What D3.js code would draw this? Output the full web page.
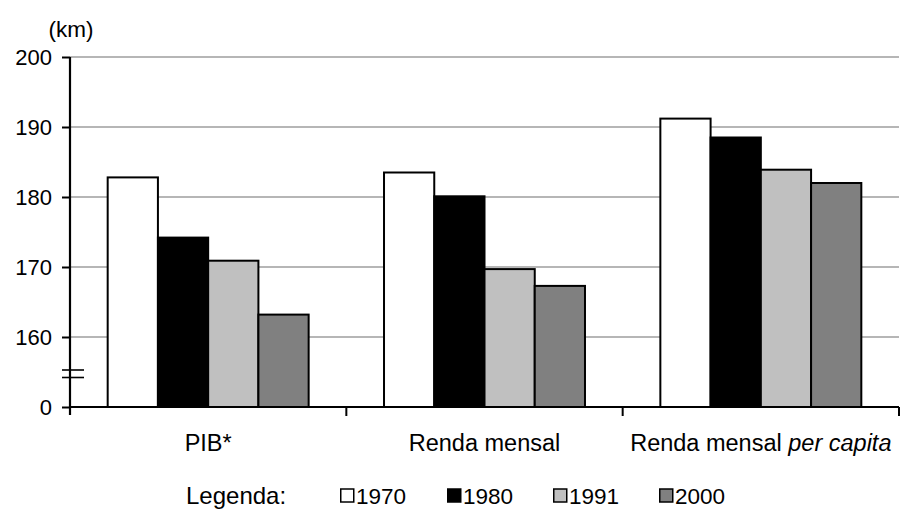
<!DOCTYPE html>
<html><head><meta charset="utf-8">
<script src="https://cdn.jsdelivr.net/npm/d3@7"></script>
<style>body{margin:0;background:#fff}svg{display:block}text{font-family:"Liberation Sans",Arial,sans-serif;fill:#000}</style>
</head><body><svg id="c" width="901" height="509"></svg>
<script>
const categories = ["PIB*", "Renda mensal", "Renda mensal per capita"];
const years = ["1970", "1980", "1991", "2000"];
const v1970 = [182.8, 183.5, 191.2];
const v1980 = [174.2, 180.1, 188.5];
const v1991 = [170.9, 169.7, 183.9];
const v2000 = [163.2, 167.3, 182.0];
const yTicks = [0, 160, 170, 180, 190, 200];
const colors = ["#ffffff", "#000000", "#c0c0c0", "#808080"];

const series = [v1970, v1980, v1991, v2000];
const svg = d3.select("#c");
const mLeft = 70, mRight = 899, mTop = 57, mBottom = 407;

const x0 = d3.scaleBand().domain(categories).range([mLeft, mRight]).padding(0);
const x1 = d3.scaleBand().domain(years).range([0, x0.bandwidth()]).paddingInner(0).paddingOuter(0.75);
const y = d3.scaleLinear().domain([0, 160, 200]).range([mBottom, 337, mTop]);
const color = d3.scaleOrdinal().domain(years).range(colors);

// gridlines
svg.append("g").selectAll("line").data(yTicks.filter(t => t > 0)).join("line")
  .attr("x1", mLeft).attr("x2", mRight).attr("y1", d => y(d)).attr("y2", d => y(d))
  .attr("stroke", "#6e6e6e").attr("stroke-width", 1.2);

// bars
const rows = categories.map((c, i) => ({ c, vals: years.map((yr, j) => ({ yr, v: series[j][i] })) }));
svg.append("g").selectAll("g").data(rows).join("g")
  .attr("transform", d => `translate(${x0(d.c)},0)`)
  .selectAll("rect").data(d => d.vals).join("rect")
  .attr("x", d => x1(d.yr)).attr("width", x1.bandwidth())
  .attr("y", d => y(d.v)).attr("height", d => y(0) - y(d.v))
  .attr("fill", d => color(d.yr)).attr("stroke", "#000").attr("stroke-width", 2);

// y axis
const yAxis = d3.axisLeft(y).tickValues(yTicks).tickSize(8).tickPadding(10).tickFormat(d3.format("d"));
const ga = svg.append("g").attr("transform", `translate(${mLeft},0)`).call(yAxis);
ga.select(".domain").attr("d", `M0,${mTop}V${mBottom + 8}`).attr("stroke", "#000").attr("stroke-width", 2.2);
ga.selectAll(".tick line").attr("stroke", "#000").attr("stroke-width", 2);
ga.selectAll(".tick text").style("font-size", "22px").attr("dy", "0.36em");

// break marks
svg.append("g").selectAll("line").data([370, 377.5]).join("line")
  .attr("x1", mLeft - 8).attr("x2", mLeft + 14).attr("y1", d => d).attr("y2", d => d)
  .attr("stroke", "#000").attr("stroke-width", 1.6);

// x axis
const xAxis = d3.axisBottom(x0).tickSize(0).tickFormat("");
const gx = svg.append("g").attr("transform", `translate(0,${mBottom})`).call(xAxis);
gx.select(".domain").attr("d", `M${mLeft},0H${mRight}`).attr("stroke", "#000").attr("stroke-width", 2.2);
const bounds = categories.map(c => x0(c)).concat([mRight]);
gx.selectAll(".sep").data(bounds.slice(1)).join("line").attr("class", "sep")
  .attr("x1", d => d).attr("x2", d => d).attr("y1", 0).attr("y2", 9)
  .attr("stroke", "#000").attr("stroke-width", 2);

// category labels
const lab = svg.append("g").selectAll("text").data(categories).join("text")
  .attr("x", d => x0(d) + x0.bandwidth() / 2).attr("y", 451)
  .attr("text-anchor", "middle").style("font-size", "23.5px");
lab.each(function (d) {
  const t = d3.select(this);
  if (d.endsWith("per capita")) {
    t.append("tspan").text("Renda mensal ");
    t.append("tspan").style("font-style", "italic").text("per capita");
  } else t.text(d);
});

// unit label
svg.append("text").attr("x", 71).attr("y", 37).attr("text-anchor", "middle").style("font-size", "22.5px").text("(km)");

// legend
svg.append("text").attr("x", 186).attr("y", 504).style("font-size", "24px").text("Legenda:");
const legX = [340, 447, 553, 659];
const lg = svg.append("g").selectAll("g").data(years).join("g")
  .attr("transform", (d, i) => `translate(${legX[i]},0)`);
lg.append("rect").attr("x", 0.75).attr("y", 489).attr("width", 13).attr("height", 13)
  .attr("fill", d => color(d)).attr("stroke", "#000").attr("stroke-width", 1.5);
lg.append("text").attr("x", 16).attr("y", 504).style("font-size", "22.5px").text(d => d);
</script></body></html>
